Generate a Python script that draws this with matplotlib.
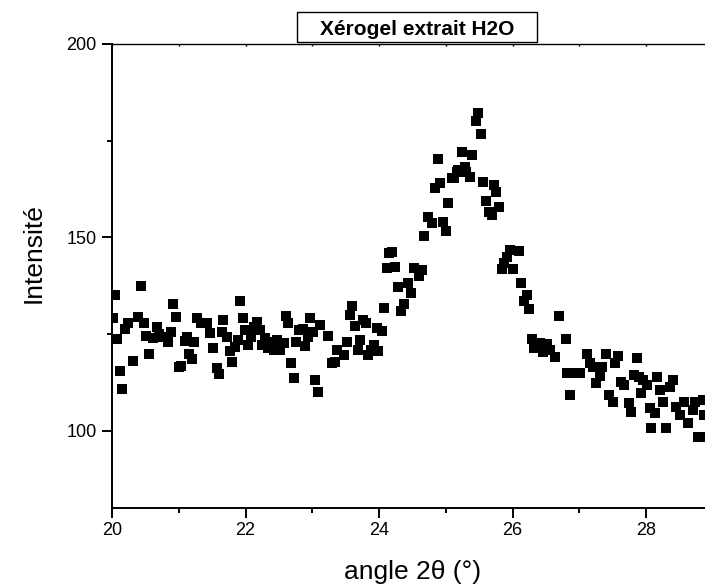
import matplotlib
matplotlib.use("Agg")
import matplotlib.pyplot as plt
from matplotlib.patches import Rectangle
from matplotlib.ticker import MultipleLocator

plt.rcParams["font.family"] = ["Liberation Sans", "DejaVu Sans"]

TITLE = "Xérogel extrait H2O"
X_LABEL = "angle 2θ (°)"
Y_LABEL = "Intensité"

# angle 2theta (deg)
angle = [
    20.02, 20.04, 20.08, 20.12, 20.15, 20.19, 20.24, 20.32, 20.39, 20.43,
    20.48, 20.51, 20.55, 20.61, 20.68, 20.71, 20.77, 20.84, 20.88, 20.92,
    20.96, 21.00, 21.04, 21.09, 21.13, 21.16, 21.20, 21.23, 21.28, 21.34,
    21.42, 21.47, 21.52, 21.57, 21.60, 21.65, 21.67, 21.72, 21.77, 21.80,
    21.84, 21.88, 21.92, 21.96, 21.99, 22.04, 22.08, 22.12, 22.17, 22.21,
    22.24, 22.29, 22.34, 22.38, 22.42, 22.47, 22.52, 22.57, 22.60, 22.64,
    22.68, 22.72, 22.76, 22.80, 22.86, 22.89, 22.93, 22.96, 23.01, 23.04,
    23.08, 23.12, 23.24, 23.29, 23.34, 23.37, 23.48, 23.52, 23.56, 23.60,
    23.64, 23.69, 23.72, 23.76, 23.81, 23.84, 23.88, 23.92, 23.97, 23.98,
    24.05, 24.08, 24.12, 24.15, 24.19, 24.24, 24.29, 24.33, 24.37, 24.44,
    24.48, 24.53, 24.60, 24.64, 24.68, 24.73, 24.80, 24.84, 24.88, 24.92,
    24.96, 25.00, 25.04, 25.09, 25.12, 25.17, 25.19, 25.25, 25.29, 25.31,
    25.36, 25.40, 25.45, 25.49, 25.53, 25.56, 25.60, 25.65, 25.69, 25.72,
    25.76, 25.80, 25.85, 25.87, 25.91, 25.96, 26.00, 26.09, 26.12, 26.17,
    26.21, 26.25, 26.29, 26.32, 26.36, 26.41, 26.44, 26.46, 26.51, 26.56,
    26.64, 26.69, 26.80, 26.82, 26.86, 26.94, 27.01, 27.12, 27.16, 27.21,
    27.25, 27.31, 27.34, 27.40, 27.45, 27.50, 27.54, 27.58, 27.62, 27.67,
    27.74, 27.77, 27.82, 27.86, 27.90, 27.93, 27.96, 28.02, 28.06, 28.08,
    28.13, 28.17, 28.21, 28.25, 28.30, 28.36, 28.40, 28.45, 28.51, 28.57,
    28.63, 28.70, 28.73, 28.78, 28.84, 28.86, 28.87,
]

intensity = [
    129.1, 135.1, 123.6, 115.4, 110.8, 126.2, 127.9, 118.0, 129.5, 137.4,
    127.9, 124.5, 119.9, 123.9, 126.7, 124.9, 124.1, 123.0, 125.4, 132.7,
    129.4, 116.5, 116.8, 123.2, 124.3, 119.8, 118.5, 122.9, 129.1, 127.9,
    127.9, 125.3, 121.5, 116.1, 114.6, 125.4, 128.6, 124.1, 120.6, 117.7,
    121.7, 123.5, 133.5, 129.1, 126.0, 122.2, 124.3, 126.9, 128.2, 126.0,
    122.2, 123.9, 121.5, 123.0, 120.9, 123.5, 120.9, 122.6, 129.7, 127.8,
    117.4, 113.5, 123.0, 126.0, 126.3, 122.0, 124.3, 129.2, 125.4, 113.1,
    109.9, 127.2, 124.6, 117.4, 117.7, 120.8, 119.6, 123.0, 129.9, 132.3,
    127.1, 120.9, 123.5, 128.6, 127.9, 119.6, 120.9, 122.2, 126.5, 120.5,
    125.8, 131.7, 142.0, 146.0, 146.3, 142.4, 137.1, 131.0, 132.8, 138.1,
    135.7, 142.0, 140.0, 141.6, 150.3, 155.3, 153.8, 162.7, 170.2, 164.0,
    154.0, 151.6, 159.0, 165.3, 165.3, 167.0, 167.4, 172.0, 168.3, 167.0,
    165.7, 171.3, 180.1, 182.1, 176.6, 164.2, 159.5, 156.6, 155.8, 163.5,
    161.8, 157.9, 141.7, 143.3, 145.0, 146.7, 141.7, 146.5, 138.3, 133.4,
    135.1, 131.4, 123.7, 121.3, 122.3, 122.6, 121.7, 120.3, 122.3, 120.8,
    119.1, 129.7, 123.6, 115.0, 109.2, 114.8, 115.0, 119.8, 117.4, 116.5,
    112.3, 114.1, 116.5, 119.8, 109.2, 107.5, 117.4, 119.3, 112.7, 111.8,
    107.1, 104.9, 114.4, 118.7, 114.0, 109.7, 113.1, 111.8, 105.8, 100.8,
    104.5, 113.8, 110.5, 107.5, 100.8, 111.4, 113.1, 106.0, 104.1, 107.5,
    102.1, 105.4, 107.5, 98.4, 98.4, 107.9, 104.1,
]

fig = plt.figure(figsize=(7.05, 5.87), dpi=100)
# axes runs a little past the right edge of the picture, as in the original
ax = fig.add_axes([0.1589, 0.1346, 0.8521, 0.7905])

ax.plot(angle, intensity, linestyle="none", marker="s", markersize=6.8,
        color="black", markeredgewidth=0)

ax.set_xlim(20, 29)
ax.set_ylim(80, 200)

ax.xaxis.set_major_locator(MultipleLocator(2))
ax.xaxis.set_minor_locator(MultipleLocator(1))
ax.yaxis.set_major_locator(MultipleLocator(50))
ax.yaxis.set_minor_locator(MultipleLocator(25))

for side in ["left", "bottom"]:
    ax.spines[side].set_linewidth(1.4)
ax.spines["top"].set_linewidth(1.0)
ax.spines["right"].set_visible(False)

ax.tick_params(axis="both", which="major", direction="out", length=7.2,
               width=1.4, labelsize=13, top=False, right=False)
ax.tick_params(axis="both", which="minor", direction="out", length=3.6,
               width=1.4, top=False, right=False)
ax.tick_params(axis="x", which="major", pad=3)
ax.tick_params(axis="y", which="major", pad=4)

# small inward ticks on the top axis, one per degree
top = ax.secondary_xaxis("top")
top.xaxis.set_major_locator(MultipleLocator(1))
top.tick_params(direction="in", length=1.6, width=1.0, labeltop=False)
top.spines["top"].set_visible(False)

ax.set_xlabel(X_LABEL, fontsize=19)
ax.xaxis.set_label_coords(0.5, -0.138)
ax.xaxis.label.set_va("center")
ax.set_ylabel(Y_LABEL, fontsize=19)
ax.yaxis.set_label_coords(-0.13, 0.55)
ax.yaxis.label.set_va("center")

# boxed title sitting on the top axis
fig.patches.append(Rectangle((0.4213, 0.9284), 0.3404, 0.0511,
                             transform=fig.transFigure, fill=True,
                             facecolor="white", edgecolor="black",
                             linewidth=1.0, zorder=3))
fig.text(0.5922, 0.9404, TITLE, ha="center", va="baseline",
         fontsize=15, fontweight="bold", zorder=4)

fig.savefig("out.png", dpi=100, facecolor="white")
